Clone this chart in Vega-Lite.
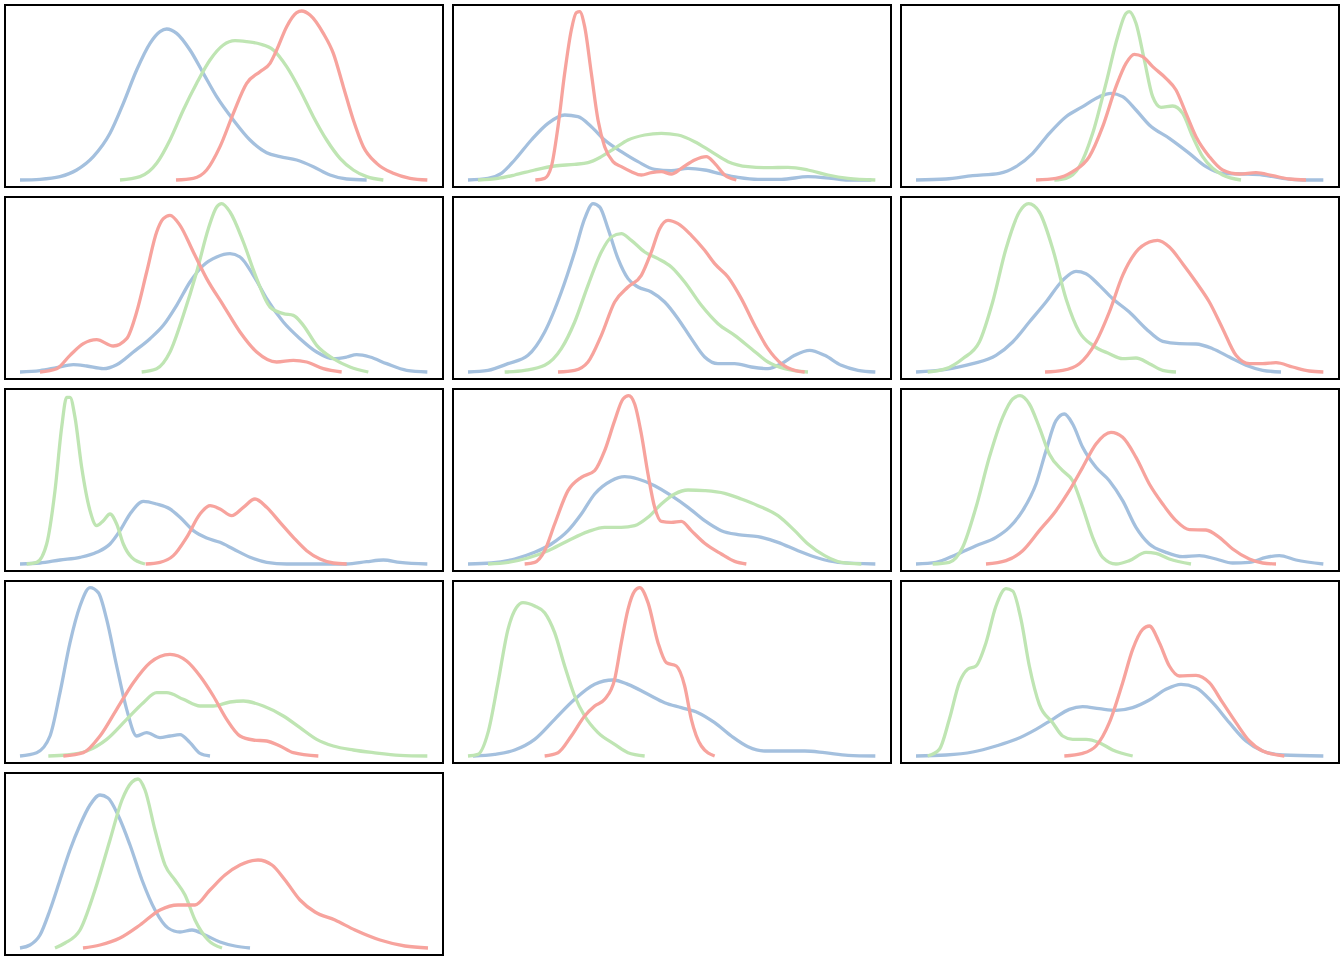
{
"$schema": "https://vega.github.io/schema/vega-lite/v6.json",
"padding": 4,
"background": "white",
"config": {"view": {"stroke": "black", "strokeWidth": 2}, "line": {"interpolate": "monotone", "strokeWidth": 3.3, "strokeJoin": "round"}},
"datasets": {"d": [
{"p":1,"s":"b","x":0,"y":0},{"p":1,"s":"b","x":6,"y":0.4},{"p":1,"s":"b","x":12,"y":2},{"p":1,"s":"b","x":17,"y":6},{"p":1,"s":"b","x":22,"y":14},{"p":1,"s":"b","x":27,"y":28},{"p":1,"s":"b","x":31,"y":46},{"p":1,"s":"b","x":35,"y":66},{"p":1,"s":"b","x":39,"y":82},{"p":1,"s":"b","x":42,"y":89},{"p":1,"s":"b","x":44,"y":90.6},{"p":1,"s":"b","x":47,"y":88},{"p":1,"s":"b","x":51,"y":78},{"p":1,"s":"b","x":55,"y":64},{"p":1,"s":"b","x":59,"y":50},{"p":1,"s":"b","x":64,"y":36},{"p":1,"s":"b","x":69,"y":24},{"p":1,"s":"b","x":74,"y":16.4},{"p":1,"s":"b","x":78,"y":14},{"p":1,"s":"b","x":83,"y":12},{"p":1,"s":"b","x":88,"y":8},{"p":1,"s":"b","x":93,"y":3},{"p":1,"s":"b","x":98,"y":0.6},{"p":1,"s":"b","x":104,"y":0},
{"p":1,"s":"g","x":30,"y":0},{"p":1,"s":"g","x":36,"y":2},{"p":1,"s":"g","x":41,"y":10},{"p":1,"s":"g","x":45,"y":24},{"p":1,"s":"g","x":49,"y":42},{"p":1,"s":"g","x":53,"y":58},{"p":1,"s":"g","x":57,"y":72},{"p":1,"s":"g","x":61,"y":81},{"p":1,"s":"g","x":64.5,"y":83.6},{"p":1,"s":"g","x":68,"y":83},{"p":1,"s":"g","x":72,"y":81.6},{"p":1,"s":"g","x":76,"y":78},{"p":1,"s":"g","x":80,"y":68},{"p":1,"s":"g","x":84,"y":54},{"p":1,"s":"g","x":88,"y":38},{"p":1,"s":"g","x":92,"y":24},{"p":1,"s":"g","x":96,"y":13},{"p":1,"s":"g","x":100,"y":6},{"p":1,"s":"g","x":104,"y":2},{"p":1,"s":"g","x":109,"y":0},
{"p":1,"s":"r","x":46.8,"y":0},{"p":1,"s":"r","x":52,"y":1},{"p":1,"s":"r","x":56,"y":6},{"p":1,"s":"r","x":60,"y":20},{"p":1,"s":"r","x":64,"y":40},{"p":1,"s":"r","x":68,"y":58},{"p":1,"s":"r","x":72,"y":65},{"p":1,"s":"r","x":75,"y":70},{"p":1,"s":"r","x":77,"y":78},{"p":1,"s":"r","x":80,"y":92},{"p":1,"s":"r","x":83,"y":100.4},{"p":1,"s":"r","x":84.5,"y":101.4},{"p":1,"s":"r","x":87,"y":99},{"p":1,"s":"r","x":91,"y":88},{"p":1,"s":"r","x":94,"y":76},{"p":1,"s":"r","x":97,"y":56},{"p":1,"s":"r","x":100,"y":36},{"p":1,"s":"r","x":103,"y":20},{"p":1,"s":"r","x":107,"y":10},{"p":1,"s":"r","x":112,"y":4},{"p":1,"s":"r","x":117,"y":1},{"p":1,"s":"r","x":122.2,"y":0},

{"p":2,"s":"b","x":0,"y":0},{"p":2,"s":"b","x":6,"y":1},{"p":2,"s":"b","x":10,"y":4},{"p":2,"s":"b","x":14,"y":12},{"p":2,"s":"b","x":19,"y":24},{"p":2,"s":"b","x":24,"y":34},{"p":2,"s":"b","x":29,"y":39},{"p":2,"s":"b","x":33,"y":38},{"p":2,"s":"b","x":37,"y":32},{"p":2,"s":"b","x":41,"y":24},{"p":2,"s":"b","x":46,"y":17},{"p":2,"s":"b","x":51,"y":11},{"p":2,"s":"b","x":56,"y":6.4},{"p":2,"s":"b","x":61,"y":5.6},{"p":2,"s":"b","x":66,"y":7},{"p":2,"s":"b","x":71,"y":6},{"p":2,"s":"b","x":76,"y":3.6},{"p":2,"s":"b","x":81,"y":1.6},{"p":2,"s":"b","x":87,"y":0.4},{"p":2,"s":"b","x":94,"y":0.4},{"p":2,"s":"b","x":102,"y":2},{"p":2,"s":"b","x":109,"y":1},{"p":2,"s":"b","x":114,"y":0},{"p":2,"s":"b","x":121,"y":0},
{"p":2,"s":"g","x":3,"y":0},{"p":2,"s":"g","x":9,"y":1},{"p":2,"s":"g","x":14,"y":3},{"p":2,"s":"g","x":20,"y":6},{"p":2,"s":"g","x":26,"y":8.4},{"p":2,"s":"g","x":32,"y":9.4},{"p":2,"s":"g","x":36,"y":10.4},{"p":2,"s":"g","x":40,"y":14},{"p":2,"s":"g","x":44,"y":19},{"p":2,"s":"g","x":48,"y":24},{"p":2,"s":"g","x":53,"y":27},{"p":2,"s":"g","x":58,"y":28},{"p":2,"s":"g","x":63,"y":27},{"p":2,"s":"g","x":68,"y":23},{"p":2,"s":"g","x":73,"y":17},{"p":2,"s":"g","x":78,"y":11},{"p":2,"s":"g","x":84,"y":8},{"p":2,"s":"g","x":90,"y":7.4},{"p":2,"s":"g","x":96,"y":7.6},{"p":2,"s":"g","x":102,"y":6},{"p":2,"s":"g","x":108,"y":3},{"p":2,"s":"g","x":114,"y":1},{"p":2,"s":"g","x":122.2,"y":0},
{"p":2,"s":"r","x":20.2,"y":0},{"p":2,"s":"r","x":23,"y":1},{"p":2,"s":"r","x":25,"y":8},{"p":2,"s":"r","x":27,"y":32},{"p":2,"s":"r","x":29,"y":64},{"p":2,"s":"r","x":31,"y":90},{"p":2,"s":"r","x":32.5,"y":100.4},{"p":2,"s":"r","x":33.5,"y":101},{"p":2,"s":"r","x":35,"y":92},{"p":2,"s":"r","x":37,"y":64},{"p":2,"s":"r","x":39,"y":36},{"p":2,"s":"r","x":41,"y":20},{"p":2,"s":"r","x":43.5,"y":11},{"p":2,"s":"r","x":46,"y":8},{"p":2,"s":"r","x":49,"y":5},{"p":2,"s":"r","x":52,"y":3},{"p":2,"s":"r","x":55,"y":4.4},{"p":2,"s":"r","x":58,"y":5},{"p":2,"s":"r","x":61,"y":3.6},{"p":2,"s":"r","x":64,"y":7},{"p":2,"s":"r","x":68,"y":12},{"p":2,"s":"r","x":71.5,"y":14},{"p":2,"s":"r","x":74,"y":10},{"p":2,"s":"r","x":77,"y":3},{"p":2,"s":"r","x":80.5,"y":0},

{"p":3,"s":"b","x":0,"y":0},{"p":3,"s":"b","x":9,"y":0.6},{"p":3,"s":"b","x":17,"y":2.6},{"p":3,"s":"b","x":25,"y":4},{"p":3,"s":"b","x":30,"y":8},{"p":3,"s":"b","x":35,"y":16},{"p":3,"s":"b","x":40,"y":28},{"p":3,"s":"b","x":45,"y":38},{"p":3,"s":"b","x":50,"y":44},{"p":3,"s":"b","x":55,"y":50},{"p":3,"s":"b","x":58.5,"y":52},{"p":3,"s":"b","x":62,"y":50},{"p":3,"s":"b","x":66,"y":42},{"p":3,"s":"b","x":70,"y":33},{"p":3,"s":"b","x":76,"y":25},{"p":3,"s":"b","x":82,"y":16},{"p":3,"s":"b","x":87,"y":8},{"p":3,"s":"b","x":92,"y":4},{"p":3,"s":"b","x":98,"y":3.6},{"p":3,"s":"b","x":104,"y":3},{"p":3,"s":"b","x":110,"y":1},{"p":3,"s":"b","x":116,"y":0},{"p":3,"s":"b","x":122.2,"y":0},
{"p":3,"s":"g","x":41.5,"y":0},{"p":3,"s":"g","x":45,"y":1},{"p":3,"s":"g","x":49,"y":8},{"p":3,"s":"g","x":53,"y":28},{"p":3,"s":"g","x":57,"y":58},{"p":3,"s":"g","x":60.5,"y":86},{"p":3,"s":"g","x":63,"y":100},{"p":3,"s":"g","x":64,"y":101},{"p":3,"s":"g","x":66,"y":94},{"p":3,"s":"g","x":68.5,"y":72},{"p":3,"s":"g","x":71,"y":50},{"p":3,"s":"g","x":73.5,"y":43.6},{"p":3,"s":"g","x":77,"y":44.4},{"p":3,"s":"g","x":80,"y":40},{"p":3,"s":"g","x":83,"y":26},{"p":3,"s":"g","x":86,"y":14},{"p":3,"s":"g","x":89,"y":7},{"p":3,"s":"g","x":92,"y":3},{"p":3,"s":"g","x":97.5,"y":0},
{"p":3,"s":"r","x":36,"y":0},{"p":3,"s":"r","x":42,"y":1},{"p":3,"s":"r","x":47,"y":5},{"p":3,"s":"r","x":52,"y":14},{"p":3,"s":"r","x":56,"y":32},{"p":3,"s":"r","x":60,"y":56},{"p":3,"s":"r","x":63,"y":70},{"p":3,"s":"r","x":65.5,"y":75.4},{"p":3,"s":"r","x":68,"y":74},{"p":3,"s":"r","x":71,"y":68},{"p":3,"s":"r","x":75,"y":61},{"p":3,"s":"r","x":78,"y":54},{"p":3,"s":"r","x":81,"y":40},{"p":3,"s":"r","x":84,"y":26},{"p":3,"s":"r","x":88,"y":14},{"p":3,"s":"r","x":92,"y":6},{"p":3,"s":"r","x":97,"y":3.6},{"p":3,"s":"r","x":102,"y":4.4},{"p":3,"s":"r","x":107,"y":2.6},{"p":3,"s":"r","x":112,"y":0.6},{"p":3,"s":"r","x":117,"y":0},

{"p":4,"s":"b","x":0,"y":0},{"p":4,"s":"b","x":6,"y":0.8},{"p":4,"s":"b","x":11,"y":2.6},{"p":4,"s":"b","x":16,"y":4.4},{"p":4,"s":"b","x":20,"y":3.6},{"p":4,"s":"b","x":25,"y":2},{"p":4,"s":"b","x":29,"y":4.4},{"p":4,"s":"b","x":34,"y":12},{"p":4,"s":"b","x":39,"y":20},{"p":4,"s":"b","x":43,"y":28},{"p":4,"s":"b","x":47,"y":40},{"p":4,"s":"b","x":51,"y":54},{"p":4,"s":"b","x":55,"y":64},{"p":4,"s":"b","x":59,"y":69},{"p":4,"s":"b","x":63,"y":71},{"p":4,"s":"b","x":66,"y":69},{"p":4,"s":"b","x":70,"y":58},{"p":4,"s":"b","x":74,"y":44},{"p":4,"s":"b","x":79,"y":30},{"p":4,"s":"b","x":84,"y":20},{"p":4,"s":"b","x":89,"y":12},{"p":4,"s":"b","x":94,"y":8},{"p":4,"s":"b","x":98,"y":9},{"p":4,"s":"b","x":101,"y":10.4},{"p":4,"s":"b","x":105,"y":9},{"p":4,"s":"b","x":110,"y":5},{"p":4,"s":"b","x":116,"y":1},{"p":4,"s":"b","x":122.2,"y":0},
{"p":4,"s":"g","x":36.5,"y":0},{"p":4,"s":"g","x":41,"y":2},{"p":4,"s":"g","x":45,"y":12},{"p":4,"s":"g","x":49,"y":34},{"p":4,"s":"g","x":53,"y":60},{"p":4,"s":"g","x":56.5,"y":86},{"p":4,"s":"g","x":59,"y":99},{"p":4,"s":"g","x":60.5,"y":101},{"p":4,"s":"g","x":63,"y":96},{"p":4,"s":"g","x":67,"y":78},{"p":4,"s":"g","x":71,"y":56},{"p":4,"s":"g","x":75,"y":39},{"p":4,"s":"g","x":79,"y":35},{"p":4,"s":"g","x":82,"y":34},{"p":4,"s":"g","x":85,"y":28},{"p":4,"s":"g","x":89,"y":16},{"p":4,"s":"g","x":94,"y":8},{"p":4,"s":"g","x":99,"y":3},{"p":4,"s":"g","x":104.5,"y":0},
{"p":4,"s":"r","x":6,"y":0},{"p":4,"s":"r","x":11,"y":2},{"p":4,"s":"r","x":15,"y":10},{"p":4,"s":"r","x":19,"y":17},{"p":4,"s":"r","x":23,"y":19.4},{"p":4,"s":"r","x":28,"y":15.6},{"p":4,"s":"r","x":32,"y":20},{"p":4,"s":"r","x":35,"y":36},{"p":4,"s":"r","x":38,"y":60},{"p":4,"s":"r","x":41,"y":84},{"p":4,"s":"r","x":43,"y":92},{"p":4,"s":"r","x":45,"y":94},{"p":4,"s":"r","x":48,"y":88},{"p":4,"s":"r","x":52,"y":72},{"p":4,"s":"r","x":56,"y":56},{"p":4,"s":"r","x":61,"y":40},{"p":4,"s":"r","x":66,"y":24},{"p":4,"s":"r","x":71,"y":12},{"p":4,"s":"r","x":77,"y":6},{"p":4,"s":"r","x":82,"y":7},{"p":4,"s":"r","x":86,"y":6},{"p":4,"s":"r","x":91,"y":2},{"p":4,"s":"r","x":96.5,"y":0},

{"p":5,"s":"b","x":0,"y":0},{"p":5,"s":"b","x":6,"y":1},{"p":5,"s":"b","x":12,"y":5},{"p":5,"s":"b","x":18,"y":10},{"p":5,"s":"b","x":23,"y":24},{"p":5,"s":"b","x":28,"y":48},{"p":5,"s":"b","x":32,"y":72},{"p":5,"s":"b","x":35,"y":92},{"p":5,"s":"b","x":37.5,"y":101},{"p":5,"s":"b","x":39.5,"y":99},{"p":5,"s":"b","x":42,"y":86},{"p":5,"s":"b","x":45,"y":68},{"p":5,"s":"b","x":48,"y":56},{"p":5,"s":"b","x":51,"y":51},{"p":5,"s":"b","x":55,"y":48},{"p":5,"s":"b","x":59,"y":42},{"p":5,"s":"b","x":63,"y":32},{"p":5,"s":"b","x":67,"y":20},{"p":5,"s":"b","x":71,"y":9},{"p":5,"s":"b","x":75,"y":5},{"p":5,"s":"b","x":80,"y":5},{"p":5,"s":"b","x":85,"y":3},{"p":5,"s":"b","x":90,"y":2},{"p":5,"s":"b","x":94,"y":5},{"p":5,"s":"b","x":98,"y":10},{"p":5,"s":"b","x":102.5,"y":13},{"p":5,"s":"b","x":107,"y":10},{"p":5,"s":"b","x":112,"y":4},{"p":5,"s":"b","x":117,"y":1},{"p":5,"s":"b","x":122.2,"y":0},
{"p":5,"s":"g","x":11,"y":0},{"p":5,"s":"g","x":17,"y":1},{"p":5,"s":"g","x":23,"y":4},{"p":5,"s":"g","x":28,"y":14},{"p":5,"s":"g","x":32,"y":30},{"p":5,"s":"g","x":36,"y":52},{"p":5,"s":"g","x":40,"y":72},{"p":5,"s":"g","x":43,"y":81},{"p":5,"s":"g","x":46,"y":83},{"p":5,"s":"g","x":49,"y":79},{"p":5,"s":"g","x":53,"y":72},{"p":5,"s":"g","x":57,"y":68},{"p":5,"s":"g","x":61,"y":63},{"p":5,"s":"g","x":65,"y":54},{"p":5,"s":"g","x":70,"y":40},{"p":5,"s":"g","x":75,"y":29},{"p":5,"s":"g","x":80,"y":22},{"p":5,"s":"g","x":85,"y":14},{"p":5,"s":"g","x":90,"y":6},{"p":5,"s":"g","x":95,"y":2},{"p":5,"s":"g","x":102,"y":0},
{"p":5,"s":"r","x":27,"y":0},{"p":5,"s":"r","x":32,"y":1},{"p":5,"s":"r","x":36,"y":6},{"p":5,"s":"r","x":40,"y":22},{"p":5,"s":"r","x":44,"y":42},{"p":5,"s":"r","x":48,"y":51},{"p":5,"s":"r","x":52,"y":58},{"p":5,"s":"r","x":55,"y":72},{"p":5,"s":"r","x":57.5,"y":86},{"p":5,"s":"r","x":60,"y":91},{"p":5,"s":"r","x":63,"y":89},{"p":5,"s":"r","x":67,"y":82},{"p":5,"s":"r","x":71,"y":73},{"p":5,"s":"r","x":74,"y":65},{"p":5,"s":"r","x":78,"y":57},{"p":5,"s":"r","x":82,"y":44},{"p":5,"s":"r","x":86,"y":28},{"p":5,"s":"r","x":90,"y":14},{"p":5,"s":"r","x":94,"y":5},{"p":5,"s":"r","x":98,"y":1},{"p":5,"s":"r","x":101,"y":0},

{"p":6,"s":"b","x":0,"y":0},{"p":6,"s":"b","x":9,"y":1.6},{"p":6,"s":"b","x":17,"y":5},{"p":6,"s":"b","x":24,"y":10},{"p":6,"s":"b","x":29,"y":18},{"p":6,"s":"b","x":34,"y":30},{"p":6,"s":"b","x":39,"y":42},{"p":6,"s":"b","x":44,"y":55},{"p":6,"s":"b","x":48,"y":60.4},{"p":6,"s":"b","x":51,"y":59},{"p":6,"s":"b","x":55,"y":52},{"p":6,"s":"b","x":59,"y":44},{"p":6,"s":"b","x":64,"y":36},{"p":6,"s":"b","x":69,"y":26},{"p":6,"s":"b","x":74,"y":18.4},{"p":6,"s":"b","x":79,"y":17},{"p":6,"s":"b","x":84,"y":16.8},{"p":6,"s":"b","x":89,"y":14},{"p":6,"s":"b","x":94,"y":9},{"p":6,"s":"b","x":99,"y":4},{"p":6,"s":"b","x":104,"y":1},{"p":6,"s":"b","x":109.5,"y":0},
{"p":6,"s":"g","x":3.5,"y":0},{"p":6,"s":"g","x":9,"y":2},{"p":6,"s":"g","x":14,"y":8},{"p":6,"s":"g","x":19,"y":18},{"p":6,"s":"g","x":23,"y":42},{"p":6,"s":"g","x":27,"y":74},{"p":6,"s":"g","x":31,"y":96},{"p":6,"s":"g","x":33.8,"y":101},{"p":6,"s":"g","x":37,"y":96},{"p":6,"s":"g","x":41,"y":74},{"p":6,"s":"g","x":45,"y":44},{"p":6,"s":"g","x":49,"y":24},{"p":6,"s":"g","x":53,"y":16},{"p":6,"s":"g","x":58,"y":11},{"p":6,"s":"g","x":62,"y":8},{"p":6,"s":"g","x":66,"y":8.4},{"p":6,"s":"g","x":70,"y":5},{"p":6,"s":"g","x":74,"y":1},{"p":6,"s":"g","x":78,"y":0},
{"p":6,"s":"r","x":38.7,"y":0},{"p":6,"s":"r","x":44,"y":1},{"p":6,"s":"r","x":49,"y":5},{"p":6,"s":"r","x":54,"y":18},{"p":6,"s":"r","x":58,"y":36},{"p":6,"s":"r","x":62,"y":58},{"p":6,"s":"r","x":66,"y":72},{"p":6,"s":"r","x":70,"y":78},{"p":6,"s":"r","x":72.5,"y":79},{"p":6,"s":"r","x":76,"y":75},{"p":6,"s":"r","x":80,"y":65},{"p":6,"s":"r","x":84,"y":54},{"p":6,"s":"r","x":88,"y":42},{"p":6,"s":"r","x":92,"y":26},{"p":6,"s":"r","x":96,"y":10},{"p":6,"s":"r","x":100,"y":5},{"p":6,"s":"r","x":104,"y":5},{"p":6,"s":"r","x":108,"y":5.6},{"p":6,"s":"r","x":113,"y":3},{"p":6,"s":"r","x":118,"y":0.6},{"p":6,"s":"r","x":122.2,"y":0},

{"p":7,"s":"b","x":0,"y":0},{"p":7,"s":"b","x":6,"y":0.6},{"p":7,"s":"b","x":12,"y":2.4},{"p":7,"s":"b","x":18,"y":4},{"p":7,"s":"b","x":23,"y":7},{"p":7,"s":"b","x":27,"y":12},{"p":7,"s":"b","x":30,"y":20},{"p":7,"s":"b","x":33,"y":30},{"p":7,"s":"b","x":37,"y":37.6},{"p":7,"s":"b","x":41,"y":36},{"p":7,"s":"b","x":45,"y":33},{"p":7,"s":"b","x":48,"y":28},{"p":7,"s":"b","x":52,"y":20},{"p":7,"s":"b","x":56,"y":15.6},{"p":7,"s":"b","x":60,"y":13},{"p":7,"s":"b","x":64,"y":9},{"p":7,"s":"b","x":69,"y":4},{"p":7,"s":"b","x":74,"y":1},{"p":7,"s":"b","x":80,"y":0},{"p":7,"s":"b","x":89,"y":0},{"p":7,"s":"b","x":98,"y":0},{"p":7,"s":"b","x":104,"y":1.4},{"p":7,"s":"b","x":109,"y":2.4},{"p":7,"s":"b","x":114,"y":1},{"p":7,"s":"b","x":122.2,"y":0},
{"p":7,"s":"g","x":2,"y":0},{"p":7,"s":"g","x":5,"y":1},{"p":7,"s":"g","x":8,"y":12},{"p":7,"s":"g","x":10.5,"y":44},{"p":7,"s":"g","x":12.5,"y":82},{"p":7,"s":"g","x":14,"y":100},{"p":7,"s":"g","x":15,"y":100},{"p":7,"s":"g","x":16.5,"y":88},{"p":7,"s":"g","x":18.5,"y":58},{"p":7,"s":"g","x":21,"y":32},{"p":7,"s":"g","x":23,"y":23},{"p":7,"s":"g","x":25,"y":26},{"p":7,"s":"g","x":27,"y":30},{"p":7,"s":"g","x":29,"y":24},{"p":7,"s":"g","x":31,"y":12},{"p":7,"s":"g","x":33.5,"y":4},{"p":7,"s":"g","x":37.5,"y":0},
{"p":7,"s":"r","x":37.7,"y":0},{"p":7,"s":"r","x":42,"y":1},{"p":7,"s":"r","x":46,"y":5},{"p":7,"s":"r","x":50,"y":16},{"p":7,"s":"r","x":54,"y":30},{"p":7,"s":"r","x":57,"y":35},{"p":7,"s":"r","x":60,"y":33},{"p":7,"s":"r","x":63.5,"y":29},{"p":7,"s":"r","x":67,"y":34},{"p":7,"s":"r","x":70.5,"y":39},{"p":7,"s":"r","x":74,"y":34},{"p":7,"s":"r","x":78,"y":25},{"p":7,"s":"r","x":82,"y":16},{"p":7,"s":"r","x":86,"y":8},{"p":7,"s":"r","x":90,"y":3},{"p":7,"s":"r","x":94,"y":0.6},{"p":7,"s":"r","x":98,"y":0},

{"p":8,"s":"b","x":0,"y":0},{"p":8,"s":"b","x":7,"y":0.6},{"p":8,"s":"b","x":14,"y":3},{"p":8,"s":"b","x":20,"y":7},{"p":8,"s":"b","x":25,"y":12},{"p":8,"s":"b","x":30,"y":20},{"p":8,"s":"b","x":34,"y":30},{"p":8,"s":"b","x":38,"y":42},{"p":8,"s":"b","x":43,"y":50},{"p":8,"s":"b","x":47,"y":52.4},{"p":8,"s":"b","x":51,"y":51},{"p":8,"s":"b","x":56,"y":47},{"p":8,"s":"b","x":61,"y":41},{"p":8,"s":"b","x":66,"y":34},{"p":8,"s":"b","x":71,"y":26},{"p":8,"s":"b","x":76,"y":20},{"p":8,"s":"b","x":81,"y":17.6},{"p":8,"s":"b","x":87,"y":16.4},{"p":8,"s":"b","x":93,"y":13},{"p":8,"s":"b","x":99,"y":8},{"p":8,"s":"b","x":105,"y":3.6},{"p":8,"s":"b","x":111,"y":1},{"p":8,"s":"b","x":122.2,"y":0},
{"p":8,"s":"g","x":6,"y":0},{"p":8,"s":"g","x":12,"y":1},{"p":8,"s":"g","x":18,"y":3.6},{"p":8,"s":"g","x":24,"y":8},{"p":8,"s":"g","x":30,"y":14},{"p":8,"s":"g","x":36,"y":19.4},{"p":8,"s":"g","x":41,"y":22},{"p":8,"s":"g","x":46,"y":22},{"p":8,"s":"g","x":50,"y":23},{"p":8,"s":"g","x":54,"y":28},{"p":8,"s":"g","x":58,"y":36},{"p":8,"s":"g","x":62,"y":42},{"p":8,"s":"g","x":66,"y":44.4},{"p":8,"s":"g","x":71,"y":44},{"p":8,"s":"g","x":77,"y":42.4},{"p":8,"s":"g","x":82,"y":39},{"p":8,"s":"g","x":87,"y":35},{"p":8,"s":"g","x":93,"y":29},{"p":8,"s":"g","x":98,"y":20},{"p":8,"s":"g","x":102,"y":12},{"p":8,"s":"g","x":107,"y":5},{"p":8,"s":"g","x":112,"y":1},{"p":8,"s":"g","x":118,"y":0},
{"p":8,"s":"r","x":17,"y":0},{"p":8,"s":"r","x":20,"y":1},{"p":8,"s":"r","x":23,"y":8},{"p":8,"s":"r","x":26,"y":24},{"p":8,"s":"r","x":30,"y":44},{"p":8,"s":"r","x":34,"y":52},{"p":8,"s":"r","x":38,"y":56},{"p":8,"s":"r","x":41,"y":68},{"p":8,"s":"r","x":44,"y":86},{"p":8,"s":"r","x":46.5,"y":99},{"p":8,"s":"r","x":48.2,"y":101},{"p":8,"s":"r","x":50,"y":96},{"p":8,"s":"r","x":52,"y":78},{"p":8,"s":"r","x":54,"y":54},{"p":8,"s":"r","x":56,"y":34},{"p":8,"s":"r","x":58,"y":25.6},{"p":8,"s":"r","x":61,"y":25},{"p":8,"s":"r","x":64,"y":25.6},{"p":8,"s":"r","x":67,"y":20},{"p":8,"s":"r","x":71,"y":12.4},{"p":8,"s":"r","x":76,"y":6},{"p":8,"s":"r","x":80,"y":1.6},{"p":8,"s":"r","x":83.5,"y":0},

{"p":9,"s":"b","x":0,"y":0},{"p":9,"s":"b","x":6,"y":1},{"p":9,"s":"b","x":12,"y":5.6},{"p":9,"s":"b","x":18,"y":11},{"p":9,"s":"b","x":24,"y":16},{"p":9,"s":"b","x":28,"y":22},{"p":9,"s":"b","x":32,"y":32},{"p":9,"s":"b","x":36,"y":48},{"p":9,"s":"b","x":39,"y":68},{"p":9,"s":"b","x":42,"y":86},{"p":9,"s":"b","x":44.5,"y":90},{"p":9,"s":"b","x":47,"y":84},{"p":9,"s":"b","x":50,"y":70},{"p":9,"s":"b","x":54,"y":58},{"p":9,"s":"b","x":58,"y":50},{"p":9,"s":"b","x":62,"y":38},{"p":9,"s":"b","x":66,"y":22},{"p":9,"s":"b","x":70,"y":12},{"p":9,"s":"b","x":75,"y":7},{"p":9,"s":"b","x":80,"y":4.4},{"p":9,"s":"b","x":85,"y":5},{"p":9,"s":"b","x":90,"y":3},{"p":9,"s":"b","x":95,"y":0.6},{"p":9,"s":"b","x":100,"y":1},{"p":9,"s":"b","x":105,"y":4},{"p":9,"s":"b","x":109,"y":5},{"p":9,"s":"b","x":114,"y":2.4},{"p":9,"s":"b","x":122.2,"y":0},
{"p":9,"s":"g","x":5,"y":0},{"p":9,"s":"g","x":10,"y":1},{"p":9,"s":"g","x":14,"y":10},{"p":9,"s":"g","x":18,"y":34},{"p":9,"s":"g","x":22,"y":64},{"p":9,"s":"g","x":26,"y":88},{"p":9,"s":"g","x":29,"y":99},{"p":9,"s":"g","x":31.2,"y":101},{"p":9,"s":"g","x":34,"y":96},{"p":9,"s":"g","x":37,"y":82},{"p":9,"s":"g","x":40,"y":66},{"p":9,"s":"g","x":44,"y":56},{"p":9,"s":"g","x":47,"y":50},{"p":9,"s":"g","x":50,"y":34},{"p":9,"s":"g","x":53,"y":16},{"p":9,"s":"g","x":56,"y":4},{"p":9,"s":"g","x":60,"y":0},{"p":9,"s":"g","x":64,"y":2},{"p":9,"s":"g","x":69,"y":7},{"p":9,"s":"g","x":72,"y":6.4},{"p":9,"s":"g","x":76,"y":3},{"p":9,"s":"g","x":82.5,"y":0},
{"p":9,"s":"r","x":21,"y":0},{"p":9,"s":"r","x":27,"y":2},{"p":9,"s":"r","x":32,"y":8},{"p":9,"s":"r","x":37,"y":20},{"p":9,"s":"r","x":42,"y":32},{"p":9,"s":"r","x":46,"y":44},{"p":9,"s":"r","x":50,"y":58},{"p":9,"s":"r","x":54,"y":72},{"p":9,"s":"r","x":58.5,"y":79},{"p":9,"s":"r","x":62,"y":76},{"p":9,"s":"r","x":66,"y":64},{"p":9,"s":"r","x":70,"y":48},{"p":9,"s":"r","x":74,"y":36},{"p":9,"s":"r","x":78,"y":26},{"p":9,"s":"r","x":82,"y":20.6},{"p":9,"s":"r","x":87,"y":20.4},{"p":9,"s":"r","x":91,"y":16},{"p":9,"s":"r","x":95,"y":9},{"p":9,"s":"r","x":100,"y":3},{"p":9,"s":"r","x":104,"y":0.6},{"p":9,"s":"r","x":108,"y":0},

{"p":10,"s":"b","x":0,"y":0},{"p":10,"s":"b","x":5,"y":2},{"p":10,"s":"b","x":9,"y":12},{"p":10,"s":"b","x":12,"y":38},{"p":10,"s":"b","x":15,"y":68},{"p":10,"s":"b","x":18,"y":90},{"p":10,"s":"b","x":21,"y":101},{"p":10,"s":"b","x":23.5,"y":98},{"p":10,"s":"b","x":26,"y":82},{"p":10,"s":"b","x":29,"y":54},{"p":10,"s":"b","x":32,"y":28},{"p":10,"s":"b","x":35,"y":12},{"p":10,"s":"b","x":38,"y":14},{"p":10,"s":"b","x":42,"y":11},{"p":10,"s":"b","x":45,"y":12},{"p":10,"s":"b","x":48,"y":12.8},{"p":10,"s":"b","x":51,"y":8},{"p":10,"s":"b","x":54,"y":1.6},{"p":10,"s":"b","x":57,"y":0},
{"p":10,"s":"g","x":8.5,"y":0},{"p":10,"s":"g","x":14,"y":0.6},{"p":10,"s":"g","x":20,"y":3},{"p":10,"s":"g","x":26,"y":10},{"p":10,"s":"g","x":32,"y":22},{"p":10,"s":"g","x":37,"y":32},{"p":10,"s":"g","x":41,"y":38},{"p":10,"s":"g","x":44,"y":38},{"p":10,"s":"g","x":49,"y":34},{"p":10,"s":"g","x":54,"y":30},{"p":10,"s":"g","x":58,"y":30},{"p":10,"s":"g","x":63,"y":32.4},{"p":10,"s":"g","x":67,"y":33},{"p":10,"s":"g","x":73,"y":30},{"p":10,"s":"g","x":79,"y":24},{"p":10,"s":"g","x":84,"y":17},{"p":10,"s":"g","x":89,"y":10},{"p":10,"s":"g","x":94,"y":6},{"p":10,"s":"g","x":100,"y":3.6},{"p":10,"s":"g","x":106,"y":2},{"p":10,"s":"g","x":114,"y":0.4},{"p":10,"s":"g","x":122.2,"y":0},
{"p":10,"s":"r","x":13,"y":0},{"p":10,"s":"r","x":19,"y":2},{"p":10,"s":"r","x":24,"y":12},{"p":10,"s":"r","x":29,"y":28},{"p":10,"s":"r","x":34,"y":44},{"p":10,"s":"r","x":39,"y":56},{"p":10,"s":"r","x":45,"y":61},{"p":10,"s":"r","x":50,"y":57},{"p":10,"s":"r","x":54,"y":48},{"p":10,"s":"r","x":58,"y":36},{"p":10,"s":"r","x":62,"y":22},{"p":10,"s":"r","x":66,"y":12},{"p":10,"s":"r","x":70,"y":9.6},{"p":10,"s":"r","x":74,"y":9},{"p":10,"s":"r","x":78,"y":6},{"p":10,"s":"r","x":82,"y":2},{"p":10,"s":"r","x":89.5,"y":0},

{"p":11,"s":"b","x":1.5,"y":0},{"p":11,"s":"b","x":8,"y":1},{"p":11,"s":"b","x":14,"y":3.6},{"p":11,"s":"b","x":20,"y":10},{"p":11,"s":"b","x":26,"y":22},{"p":11,"s":"b","x":32,"y":34},{"p":11,"s":"b","x":38,"y":43},{"p":11,"s":"b","x":43.5,"y":45.6},{"p":11,"s":"b","x":48,"y":43},{"p":11,"s":"b","x":54,"y":37},{"p":11,"s":"b","x":59,"y":32},{"p":11,"s":"b","x":64,"y":29},{"p":11,"s":"b","x":69,"y":26},{"p":11,"s":"b","x":74,"y":20},{"p":11,"s":"b","x":79,"y":12},{"p":11,"s":"b","x":84,"y":5.6},{"p":11,"s":"b","x":89,"y":3},{"p":11,"s":"b","x":95,"y":3},{"p":11,"s":"b","x":101,"y":3},{"p":11,"s":"b","x":107,"y":2},{"p":11,"s":"b","x":114,"y":0.4},{"p":11,"s":"b","x":122.2,"y":0},
{"p":11,"s":"g","x":0,"y":0},{"p":11,"s":"g","x":3,"y":1},{"p":11,"s":"g","x":6,"y":14},{"p":11,"s":"g","x":9,"y":44},{"p":11,"s":"g","x":12,"y":76},{"p":11,"s":"g","x":14.5,"y":89},{"p":11,"s":"g","x":16.5,"y":92},{"p":11,"s":"g","x":20,"y":90},{"p":11,"s":"g","x":23,"y":86},{"p":11,"s":"g","x":26,"y":74},{"p":11,"s":"g","x":29,"y":54},{"p":11,"s":"g","x":32,"y":36},{"p":11,"s":"g","x":35,"y":24},{"p":11,"s":"g","x":39,"y":14},{"p":11,"s":"g","x":44,"y":7},{"p":11,"s":"g","x":48,"y":2},{"p":11,"s":"g","x":53,"y":0},
{"p":11,"s":"r","x":23,"y":0},{"p":11,"s":"r","x":27,"y":2},{"p":11,"s":"r","x":31,"y":12},{"p":11,"s":"r","x":35,"y":24},{"p":11,"s":"r","x":38,"y":30},{"p":11,"s":"r","x":41,"y":34},{"p":11,"s":"r","x":44,"y":46},{"p":11,"s":"r","x":46,"y":68},{"p":11,"s":"r","x":48,"y":88},{"p":11,"s":"r","x":50,"y":99},{"p":11,"s":"r","x":51.5,"y":101},{"p":11,"s":"r","x":54,"y":92},{"p":11,"s":"r","x":57,"y":68},{"p":11,"s":"r","x":59.5,"y":56},{"p":11,"s":"r","x":62.5,"y":54},{"p":11,"s":"r","x":65,"y":42},{"p":11,"s":"r","x":67,"y":22},{"p":11,"s":"r","x":70,"y":6},{"p":11,"s":"r","x":74,"y":0},

{"p":12,"s":"b","x":0,"y":0},{"p":12,"s":"b","x":9,"y":0.6},{"p":12,"s":"b","x":17,"y":2.4},{"p":12,"s":"b","x":24,"y":6},{"p":12,"s":"b","x":30,"y":10},{"p":12,"s":"b","x":36,"y":16},{"p":12,"s":"b","x":41,"y":22},{"p":12,"s":"b","x":46,"y":28},{"p":12,"s":"b","x":50,"y":29.6},{"p":12,"s":"b","x":55,"y":28.4},{"p":12,"s":"b","x":60,"y":27.4},{"p":12,"s":"b","x":65,"y":29},{"p":12,"s":"b","x":70,"y":33.6},{"p":12,"s":"b","x":75,"y":40},{"p":12,"s":"b","x":79.5,"y":43},{"p":12,"s":"b","x":84,"y":41},{"p":12,"s":"b","x":89,"y":32},{"p":12,"s":"b","x":94,"y":20},{"p":12,"s":"b","x":99,"y":9},{"p":12,"s":"b","x":104,"y":3},{"p":12,"s":"b","x":110,"y":0.6},{"p":12,"s":"b","x":122.2,"y":0},
{"p":12,"s":"g","x":3.5,"y":0},{"p":12,"s":"g","x":7,"y":4},{"p":12,"s":"g","x":10,"y":22},{"p":12,"s":"g","x":13,"y":44},{"p":12,"s":"g","x":15.5,"y":52},{"p":12,"s":"g","x":18,"y":54},{"p":12,"s":"g","x":21,"y":68},{"p":12,"s":"g","x":24,"y":90},{"p":12,"s":"g","x":27,"y":100.4},{"p":12,"s":"g","x":29,"y":99},{"p":12,"s":"g","x":31.5,"y":82},{"p":12,"s":"g","x":34,"y":54},{"p":12,"s":"g","x":37,"y":31},{"p":12,"s":"g","x":41,"y":20},{"p":12,"s":"g","x":44,"y":12},{"p":12,"s":"g","x":47,"y":10},{"p":12,"s":"g","x":51,"y":10},{"p":12,"s":"g","x":55,"y":8},{"p":12,"s":"g","x":59,"y":3.6},{"p":12,"s":"g","x":65,"y":0},
{"p":12,"s":"r","x":44.5,"y":0},{"p":12,"s":"r","x":50,"y":1.6},{"p":12,"s":"r","x":54,"y":6},{"p":12,"s":"r","x":58,"y":20},{"p":12,"s":"r","x":62,"y":44},{"p":12,"s":"r","x":65,"y":64},{"p":12,"s":"r","x":68,"y":76},{"p":12,"s":"r","x":70,"y":78},{"p":12,"s":"r","x":73,"y":68},{"p":12,"s":"r","x":76,"y":54},{"p":12,"s":"r","x":79,"y":48},{"p":12,"s":"r","x":84,"y":48.4},{"p":12,"s":"r","x":88,"y":44},{"p":12,"s":"r","x":92,"y":32},{"p":12,"s":"r","x":96,"y":20},{"p":12,"s":"r","x":100,"y":9},{"p":12,"s":"r","x":104,"y":3},{"p":12,"s":"r","x":110.5,"y":0},

{"p":13,"s":"b","x":0,"y":0},{"p":13,"s":"b","x":3,"y":1.8},{"p":13,"s":"b","x":6,"y":7.8},{"p":13,"s":"b","x":9,"y":22.8},{"p":13,"s":"b","x":12,"y":40.8},{"p":13,"s":"b","x":15,"y":58.8},{"p":13,"s":"b","x":18,"y":73.8},{"p":13,"s":"b","x":21,"y":85.8},{"p":13,"s":"b","x":24,"y":91.8},{"p":13,"s":"b","x":26.4,"y":90},{"p":13,"s":"b","x":29.4,"y":79.8},{"p":13,"s":"b","x":33,"y":61.8},{"p":13,"s":"b","x":36.6,"y":40.8},{"p":13,"s":"b","x":40.5,"y":22.8},{"p":13,"s":"b","x":44.4,"y":12},{"p":13,"s":"b","x":48,"y":9.6},{"p":13,"s":"b","x":51.6,"y":10.8},{"p":13,"s":"b","x":55.5,"y":7.8},{"p":13,"s":"b","x":60,"y":3.6},{"p":13,"s":"b","x":64.5,"y":1.2},{"p":13,"s":"b","x":69,"y":0},
{"p":13,"s":"g","x":10.5,"y":0},{"p":13,"s":"g","x":13.5,"y":3},{"p":13,"s":"g","x":18,"y":10.8},{"p":13,"s":"g","x":22.5,"y":34.8},{"p":13,"s":"g","x":27,"y":64.8},{"p":13,"s":"g","x":30.6,"y":88.8},{"p":13,"s":"g","x":33.6,"y":99.6},{"p":13,"s":"g","x":35.4,"y":101.4},{"p":13,"s":"g","x":37.5,"y":94.8},{"p":13,"s":"g","x":40.5,"y":70.8},{"p":13,"s":"g","x":43.5,"y":49.8},{"p":13,"s":"g","x":46.5,"y":40.8},{"p":13,"s":"g","x":49.5,"y":31.8},{"p":13,"s":"g","x":52.5,"y":16.8},{"p":13,"s":"g","x":56.4,"y":4.8},{"p":13,"s":"g","x":60.6,"y":0},
{"p":13,"s":"r","x":18.9,"y":0},{"p":13,"s":"r","x":24,"y":1.8},{"p":13,"s":"r","x":30,"y":6},{"p":13,"s":"r","x":36,"y":13.8},{"p":13,"s":"r","x":42,"y":22.8},{"p":13,"s":"r","x":47.4,"y":25.8},{"p":13,"s":"r","x":52.5,"y":25.8},{"p":13,"s":"r","x":57,"y":34.8},{"p":13,"s":"r","x":61.5,"y":43.8},{"p":13,"s":"r","x":66,"y":49.8},{"p":13,"s":"r","x":71.4,"y":52.8},{"p":13,"s":"r","x":75.6,"y":49.8},{"p":13,"s":"r","x":79.5,"y":40.8},{"p":13,"s":"r","x":84,"y":28.8},{"p":13,"s":"r","x":88.5,"y":21.6},{"p":13,"s":"r","x":94.5,"y":16.8},{"p":13,"s":"r","x":100.5,"y":10.8},{"p":13,"s":"r","x":108,"y":4.8},{"p":13,"s":"r","x":115.5,"y":1.2},{"p":13,"s":"r","x":122.4,"y":0}
]},
"data": {"name": "d"},
"columns": 3,
"spacing": 8,
"concat": [
  {"transform": [{"filter": "datum.p == 1"}], "width": 438, "height": 182, "mark": "line", "encoding": {"x": {"field": "x", "type": "quantitative", "axis": null, "scale": {"domain": [-4.5, 126.9], "nice": false, "zero": false}}, "y": {"field": "y", "type": "quantitative", "axis": null, "scale": {"domain": [-4.2, 105], "nice": false, "zero": false}}, "color": {"field": "s", "type": "nominal", "legend": null, "scale": {"domain": ["b", "g", "r"], "range": ["#a4c0de", "#bfe5b3", "#f7a39d"]}}}},
  {"transform": [{"filter": "datum.p == 2"}], "width": 438, "height": 182, "mark": "line", "encoding": {"x": {"field": "x", "type": "quantitative", "axis": null, "scale": {"domain": [-4.5, 126.9], "nice": false, "zero": false}}, "y": {"field": "y", "type": "quantitative", "axis": null, "scale": {"domain": [-4.2, 105], "nice": false, "zero": false}}, "color": {"field": "s", "type": "nominal", "legend": null, "scale": {"domain": ["b", "g", "r"], "range": ["#a4c0de", "#bfe5b3", "#f7a39d"]}}}},
  {"transform": [{"filter": "datum.p == 3"}], "width": 438, "height": 182, "mark": "line", "encoding": {"x": {"field": "x", "type": "quantitative", "axis": null, "scale": {"domain": [-4.5, 126.9], "nice": false, "zero": false}}, "y": {"field": "y", "type": "quantitative", "axis": null, "scale": {"domain": [-4.2, 105], "nice": false, "zero": false}}, "color": {"field": "s", "type": "nominal", "legend": null, "scale": {"domain": ["b", "g", "r"], "range": ["#a4c0de", "#bfe5b3", "#f7a39d"]}}}},
  {"transform": [{"filter": "datum.p == 4"}], "width": 438, "height": 182, "mark": "line", "encoding": {"x": {"field": "x", "type": "quantitative", "axis": null, "scale": {"domain": [-4.5, 126.9], "nice": false, "zero": false}}, "y": {"field": "y", "type": "quantitative", "axis": null, "scale": {"domain": [-4.2, 105], "nice": false, "zero": false}}, "color": {"field": "s", "type": "nominal", "legend": null, "scale": {"domain": ["b", "g", "r"], "range": ["#a4c0de", "#bfe5b3", "#f7a39d"]}}}},
  {"transform": [{"filter": "datum.p == 5"}], "width": 438, "height": 182, "mark": "line", "encoding": {"x": {"field": "x", "type": "quantitative", "axis": null, "scale": {"domain": [-4.5, 126.9], "nice": false, "zero": false}}, "y": {"field": "y", "type": "quantitative", "axis": null, "scale": {"domain": [-4.2, 105], "nice": false, "zero": false}}, "color": {"field": "s", "type": "nominal", "legend": null, "scale": {"domain": ["b", "g", "r"], "range": ["#a4c0de", "#bfe5b3", "#f7a39d"]}}}},
  {"transform": [{"filter": "datum.p == 6"}], "width": 438, "height": 182, "mark": "line", "encoding": {"x": {"field": "x", "type": "quantitative", "axis": null, "scale": {"domain": [-4.5, 126.9], "nice": false, "zero": false}}, "y": {"field": "y", "type": "quantitative", "axis": null, "scale": {"domain": [-4.2, 105], "nice": false, "zero": false}}, "color": {"field": "s", "type": "nominal", "legend": null, "scale": {"domain": ["b", "g", "r"], "range": ["#a4c0de", "#bfe5b3", "#f7a39d"]}}}},
  {"transform": [{"filter": "datum.p == 7"}], "width": 438, "height": 182, "mark": "line", "encoding": {"x": {"field": "x", "type": "quantitative", "axis": null, "scale": {"domain": [-4.5, 126.9], "nice": false, "zero": false}}, "y": {"field": "y", "type": "quantitative", "axis": null, "scale": {"domain": [-4.2, 105], "nice": false, "zero": false}}, "color": {"field": "s", "type": "nominal", "legend": null, "scale": {"domain": ["b", "g", "r"], "range": ["#a4c0de", "#bfe5b3", "#f7a39d"]}}}},
  {"transform": [{"filter": "datum.p == 8"}], "width": 438, "height": 182, "mark": "line", "encoding": {"x": {"field": "x", "type": "quantitative", "axis": null, "scale": {"domain": [-4.5, 126.9], "nice": false, "zero": false}}, "y": {"field": "y", "type": "quantitative", "axis": null, "scale": {"domain": [-4.2, 105], "nice": false, "zero": false}}, "color": {"field": "s", "type": "nominal", "legend": null, "scale": {"domain": ["b", "g", "r"], "range": ["#a4c0de", "#bfe5b3", "#f7a39d"]}}}},
  {"transform": [{"filter": "datum.p == 9"}], "width": 438, "height": 182, "mark": "line", "encoding": {"x": {"field": "x", "type": "quantitative", "axis": null, "scale": {"domain": [-4.5, 126.9], "nice": false, "zero": false}}, "y": {"field": "y", "type": "quantitative", "axis": null, "scale": {"domain": [-4.2, 105], "nice": false, "zero": false}}, "color": {"field": "s", "type": "nominal", "legend": null, "scale": {"domain": ["b", "g", "r"], "range": ["#a4c0de", "#bfe5b3", "#f7a39d"]}}}},
  {"transform": [{"filter": "datum.p == 10"}], "width": 438, "height": 182, "mark": "line", "encoding": {"x": {"field": "x", "type": "quantitative", "axis": null, "scale": {"domain": [-4.5, 126.9], "nice": false, "zero": false}}, "y": {"field": "y", "type": "quantitative", "axis": null, "scale": {"domain": [-4.2, 105], "nice": false, "zero": false}}, "color": {"field": "s", "type": "nominal", "legend": null, "scale": {"domain": ["b", "g", "r"], "range": ["#a4c0de", "#bfe5b3", "#f7a39d"]}}}},
  {"transform": [{"filter": "datum.p == 11"}], "width": 438, "height": 182, "mark": "line", "encoding": {"x": {"field": "x", "type": "quantitative", "axis": null, "scale": {"domain": [-4.5, 126.9], "nice": false, "zero": false}}, "y": {"field": "y", "type": "quantitative", "axis": null, "scale": {"domain": [-4.2, 105], "nice": false, "zero": false}}, "color": {"field": "s", "type": "nominal", "legend": null, "scale": {"domain": ["b", "g", "r"], "range": ["#a4c0de", "#bfe5b3", "#f7a39d"]}}}},
  {"transform": [{"filter": "datum.p == 12"}], "width": 438, "height": 182, "mark": "line", "encoding": {"x": {"field": "x", "type": "quantitative", "axis": null, "scale": {"domain": [-4.5, 126.9], "nice": false, "zero": false}}, "y": {"field": "y", "type": "quantitative", "axis": null, "scale": {"domain": [-4.2, 105], "nice": false, "zero": false}}, "color": {"field": "s", "type": "nominal", "legend": null, "scale": {"domain": ["b", "g", "r"], "range": ["#a4c0de", "#bfe5b3", "#f7a39d"]}}}},
  {"transform": [{"filter": "datum.p == 13"}], "width": 438, "height": 182, "mark": "line", "encoding": {"x": {"field": "x", "type": "quantitative", "axis": null, "scale": {"domain": [-4.5, 126.9], "nice": false, "zero": false}}, "y": {"field": "y", "type": "quantitative", "axis": null, "scale": {"domain": [-4.2, 105], "nice": false, "zero": false}}, "color": {"field": "s", "type": "nominal", "legend": null, "scale": {"domain": ["b", "g", "r"], "range": ["#a4c0de", "#bfe5b3", "#f7a39d"]}}}}
]
}
